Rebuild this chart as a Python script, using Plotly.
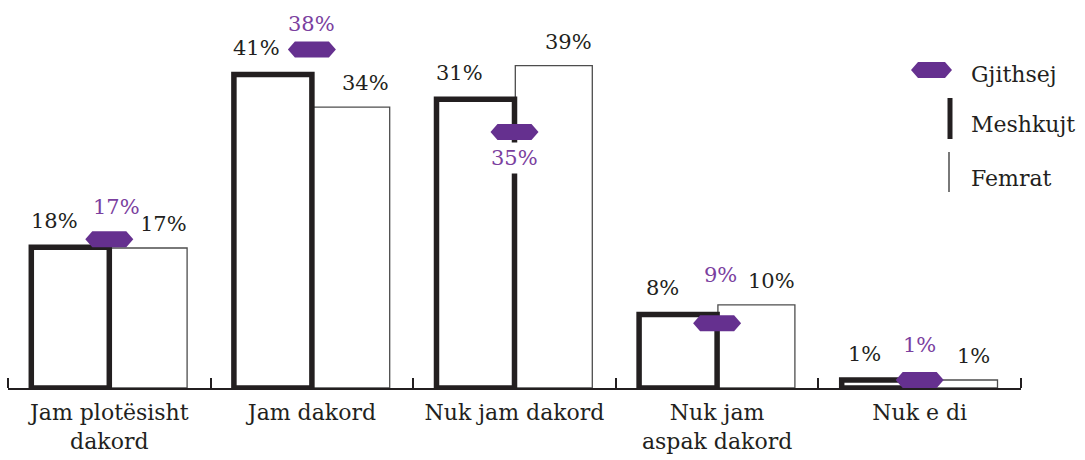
import plotly.graph_objects as go

# ---------------- data ----------------
categories = ["Jam plotësisht<br>dakord", "Jam dakord", "Nuk jam dakord",
              "Nuk jam<br>aspak dakord", "Nuk e di"]
meshkujt_vals = [17.6, 39.2, 36.1, 9.2, 1.0]     # bar heights
femrat_vals = [17.5, 35.1, 40.3, 10.4, 1.0]
gjithsej_vals = [18.6, 42.3, 32.0, 8.1, 1.0]
meshkujt_labels = ["18%", "41%", "31%", "8%", "1%"]
femrat_labels = ["17%", "34%", "39%", "10%", "1%"]
gjithsej_labels = ["17%", "38%", "35%", "9%", "1%"]
legend_names = ["Gjithsej", "Meshkujt", "Femrat"]

# ---------------- style / layout ----------------
W, H = 1085, 460
ML, MR, MT, MB = 8, 64, 0, 72
YMAX = 48.5
PLOT_W = W - ML - MR
PLOT_H = H - MT - MB
PX_PER_Y = PLOT_H / YMAX
PX_PER_X = PLOT_W / 5.0

DARK = "#231f20"
GREY = "#4d4d4d"
PURPLE = "#65308f"
PURPLE_TXT = "#7b3f9f"
FONT = "DejaVu Serif"

xs = list(range(len(categories)))

fig = go.Figure()
fig.add_trace(go.Bar(x=xs, y=femrat_vals, width=0.38, offset=0.004,
                     marker=dict(color="white", line=dict(color=GREY, width=1.3)),
                     name=legend_names[2], showlegend=False, hoverinfo="skip"))
fig.add_trace(go.Bar(x=xs, y=meshkujt_vals, width=0.385, offset=-0.385,
                     marker=dict(color="white", line=dict(color=DARK, width=5.5)),
                     name=legend_names[1], showlegend=False, hoverinfo="skip"))

# hexagon markers for Gjithsej (data coordinates)
hw = 24 / PX_PER_X
tip = 7 / PX_PER_X
hh = 8 / PX_PER_Y
shapes = []
for x, g in zip(xs, gjithsej_vals):
    path = (f"M{x-hw},{g} L{x-hw+tip},{g+hh} L{x+hw-tip},{g+hh} "
            f"L{x+hw},{g} L{x+hw-tip},{g-hh} L{x-hw+tip},{g-hh} Z")
    shapes.append(dict(type="path", xref="x", yref="y", path=path,
                       fillcolor=PURPLE, line=dict(width=0), layer="above"))

annotations = []
for x, v, t in zip(xs, meshkujt_vals, meshkujt_labels):
    annotations.append(dict(x=x, y=v, text=t, showarrow=False, xshift=-55, yshift=26,
                            font=dict(family=FONT, size=21, color=DARK)))
for x, v, t in zip(xs, femrat_vals, femrat_labels):
    annotations.append(dict(x=x, y=v, text=t, showarrow=False, xshift=54, yshift=24,
                            font=dict(family=FONT, size=21, color=DARK)))
g_yshift = [32, 26, -26, 48, 35]
g_xshift = [7, 0, 0, 3, 0]
for x, v, t, ys, xsft in zip(xs, gjithsej_vals, gjithsej_labels, g_yshift, g_xshift):
    annotations.append(dict(x=x, y=v, text=t, showarrow=False, xshift=xsft, yshift=ys,
                            bgcolor="white", borderpad=3,
                            font=dict(family=FONT, size=21, color=PURPLE_TXT)))

# ---------------- manual legend (paper coords) ----------------
def px(xpix):
    return (xpix - ML) / PLOT_W


def py(ypix):
    return (H - MB - ypix) / PLOT_H


lx0, lx1, lyc, lh, lt = 911, 952, 70, 8, 7
shapes.append(dict(type="path", xref="paper", yref="paper",
                   path=(f"M{px(lx0)},{py(lyc)} L{px(lx0+lt)},{py(lyc-lh)} L{px(lx1-lt)},{py(lyc-lh)} "
                         f"L{px(lx1)},{py(lyc)} L{px(lx1-lt)},{py(lyc+lh)} L{px(lx0+lt)},{py(lyc+lh)} Z"),
                   fillcolor=PURPLE, line=dict(width=0)))
shapes.append(dict(type="line", xref="paper", yref="paper", x0=px(950), x1=px(950),
                   y0=py(98), y1=py(139), line=dict(color=DARK, width=5)))
shapes.append(dict(type="line", xref="paper", yref="paper", x0=px(949), x1=px(949),
                   y0=py(152), y1=py(192), line=dict(color=GREY, width=1.5)))
for name, yc in zip(legend_names, [74, 125, 178]):
    annotations.append(dict(xref="paper", yref="paper", x=px(969), y=py(yc), text=name,
                            xanchor="left", yanchor="middle", showarrow=False,
                            font=dict(family=FONT, size=22, color=DARK)))

fig.update_layout(
    width=W, height=H,
    margin=dict(l=ML, r=MR, t=MT, b=MB),
    paper_bgcolor="white", plot_bgcolor="white",
    barmode="overlay",
    shapes=shapes, annotations=annotations,
    showlegend=False,
    xaxis=dict(range=[-0.5, 4.5], tickvals=xs, ticktext=categories, ticks="",
               showline=True, linecolor=DARK, linewidth=1.5, showgrid=False,
               zeroline=False, automargin=False, ticklabelstandoff=4,
               tickfont=dict(family=FONT, size=22, color=DARK),
               minor=dict(tickvals=[-0.5, 0.5, 1.5, 2.5, 3.5, 4.5], ticks="inside",
                          ticklen=10, tickwidth=2, tickcolor=DARK, showgrid=False)),
    yaxis=dict(range=[0, YMAX], visible=False, showgrid=False, zeroline=False),
)

fig.write_html("out.html", config={"displayModeBar": False},
               post_script="document.body.style.margin='0';document.body.style.padding='0';")
